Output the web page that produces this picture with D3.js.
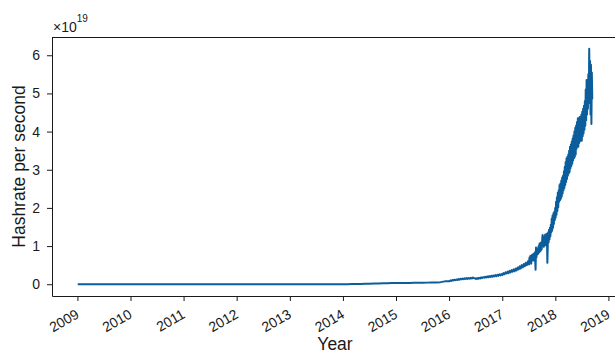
<!DOCTYPE html>
<html>
<head>
<meta charset="utf-8">
<script src="https://cdn.jsdelivr.net/npm/d3@7"></script>
<style>
  html, body { margin: 0; padding: 0; background: #fff; }
  svg { display: block; font-family: "Liberation Sans", Arial, Helvetica, sans-serif; }
</style>
</head>
<body>
<svg id="chart" width="615" height="354"></svg>
<script>
// Bitcoin network hashrate, in EH/s (1 EH/s = 1e18 hashes per second).
// Monthly readings 2009-2015, weekly readings 2016 to mid-2017, then every three days.
const monthlyStart = "2009-01-03";
const monthlyEHs = [
  // 2009
  5e-9, 5e-9, 6e-9, 5e-9, 4e-9, 5e-9, 4e-9, 5e-9, 4e-9, 6e-9, 7e-9, 8e-9,
  // 2010
  8e-9, 1e-8, 1e-8, 1.2e-8, 1.5e-8, 2e-8, 3e-8, 1e-7, 1.5e-7, 1.2e-7, 1.6e-7, 1.5e-7,
  // 2011
  2.5e-7, 5e-7, 1e-6, 1e-6, 2e-6, 8e-6, 1.3e-5, 1.5e-5, 1.3e-5, 1e-5, 8e-6, 8e-6,
  // 2012
  1e-5, 1.1e-5, 1.2e-5, 1.3e-5, 1.2e-5, 1.4e-5, 1.6e-5, 1.9e-5, 2.3e-5, 2.5e-5, 2.5e-5, 2.4e-5,
  // 2013
  2.5e-5, 3e-5, 3.5e-5, 5e-5, 7e-5, 9e-5, 1.6e-4, 2.5e-4, 6e-4, 1.2e-3, 3e-3, 7e-3,
  // 2014
  0.012, 0.02, 0.03, 0.05, 0.07, 0.1, 0.14, 0.18, 0.22, 0.26, 0.28, 0.3,
  // 2015
  0.3, 0.32, 0.33, 0.34, 0.36, 0.38, 0.4, 0.42, 0.45, 0.48, 0.55, 0.75
];

const weeklyStart = "2016-01-04";
const weeklyEHs = [
  // 2016
  0.8, 1.0, 0.88, 1.1, 1.0, 1.2, 1.05, 1.25, 1.1, 1.35, 1.2, 1.45, 1.3,
  1.5, 1.3, 1.55, 1.4, 1.6, 1.4, 1.65, 1.45, 1.7, 1.5, 1.75, 1.55, 1.6,
  1.35, 1.6, 1.4, 1.7, 1.5, 1.8, 1.6, 1.85, 1.7, 1.95, 1.75, 2.05, 1.8,
  2.15, 1.9, 2.2, 1.95, 2.3, 2.05, 2.4, 2.1, 2.5, 2.2, 2.6, 2.3, 2.65,
  // 2017 H1
  2.4, 2.9, 2.6, 3.1, 2.8, 3.3, 2.9, 3.5, 3.1, 3.7, 3.3, 3.9, 3.4,
  4.1, 3.6, 4.4, 3.9, 4.7, 4.1, 5.0, 4.4, 5.3, 4.7, 5.6, 5.0, 6.0
];

const threeDayStart = "2017-07-01";
const threeDayEHs = [
  6.0, 5.2, 7.0, 5.8, 7.4, 6.1, 5.4, 7.6, 6.3, 7.8,
  7.0, 6.2, 8.0, 6.6, 8.3, 6.8, 3.8, 9.6, 7.0, 9.2,
  7.8, 9.4, 8.0, 10.0, 8.3, 10.6, 8.6, 10.9, 8.8, 10.4,
  9.2, 11.4, 12.9, 10.0, 12.2, 9.8, 12.6, 10.4, 13.0, 10.2,
  12.4, 10.6, 13.2, 5.6, 10.0, 13.6, 11.0, 14.3, 11.8, 14.8,
  12.6, 15.6, 13.6, 17.2, 14.0, 18.0, 14.8, 18.6, 15.8, 19.0,
  16.8, 20.0, 17.4, 21.6, 18.2, 22.8, 19.2, 24.0, 20.2, 24.6,
  21.6, 26.0, 22.0, 26.4, 22.4, 27.2, 23.0, 28.0, 23.8, 28.4,
  24.6, 29.6, 25.2, 30.8, 26.0, 32.0, 26.8, 33.0, 27.6, 33.4,
  28.4, 34.0, 29.0, 35.0, 29.4, 36.0, 30.4, 36.6, 31.0, 37.4,
  31.6, 38.2, 32.4, 39.0, 33.0, 40.0, 33.4, 41.0, 34.0, 41.6,
  35.5, 42.5, 36.5, 43.5, 36.0, 42.0, 37.0, 43.8, 37.5, 42.8,
  38.0, 44.5, 37.6, 45.2, 38.8, 46.0, 39.5, 46.8, 40.5, 48.0,
  41.5, 51.0, 43.0, 53.5, 44.5, 52.5, 46.0, 55.0, 47.5, 61.7,
  49.0, 58.5, 44.5, 57.5, 42.0, 55.5, 48.5
];

const yearTicks = [2009, 2010, 2011, 2012, 2013, 2014, 2015, 2016, 2017, 2018, 2019];
const yTicks = [0, 1, 2, 3, 4, 5, 6];   // multiples of 1e19 H/s
const yExponent = 19;

// ---- assemble the series ----
const parse = d3.utcParse("%Y-%m-%d");
const EH = 1e18;
const points = [];
monthlyEHs.forEach((v, i) => points.push({ date: d3.utcMonth.offset(parse(monthlyStart), i), hs: v * EH }));
weeklyEHs.forEach((v, i) => points.push({ date: d3.utcWeek.offset(parse(weeklyStart), i), hs: v * EH }));
threeDayEHs.forEach((v, i) => points.push({ date: d3.utcDay.offset(parse(threeDayStart), 3 * i), hs: v * EH }));

// ---- layout ----
const margin = { left: 52, top: 37, bottom: 296 };
const plotWidth = 566;
const lineColor = "#0b5e9b";
const ink = "#1a1a1a";

const svg = d3.select("#chart");
svg.append("rect").attr("width", 615).attr("height", 354).attr("fill", "#fff");

// 5% margins around the data, both directions
const [t0, t1] = d3.extent(points, d => d.date);
const tPad = (t1 - t0) * 0.05;
const x = d3.scaleUtc()
  .domain([new Date(+t0 - tPad), new Date(+t1 + tPad)])
  .range([margin.left, margin.left + plotWidth]);

const [v0, v1] = d3.extent(points, d => d.hs);
const vPad = (v1 - v0) * 0.05;
const y = d3.scaleLinear()
  .domain([v0 - vPad, v1 + vPad])
  .range([margin.bottom, margin.top]);

// ---- hashrate line ----
const line = d3.line()
  .x(d => x(d.date))
  .y(d => y(d.hs));

svg.append("path")
  .datum(points)
  .attr("fill", "none")
  .attr("stroke", lineColor)
  .attr("stroke-width", 2)
  .attr("stroke-linejoin", "round")
  .attr("stroke-linecap", "butt")
  .attr("d", line);

// ---- axes ----
const xAxis = d3.axisBottom(x)
  .tickValues(yearTicks.map(yr => new Date(Date.UTC(yr, 0, 1))))
  .tickFormat(d3.utcFormat("%Y"))
  .tickSize(5)
  .tickSizeOuter(0);

const gx = svg.append("g")
  .attr("transform", `translate(0,${margin.bottom})`)
  .call(xAxis);
gx.selectAll("text")
  .attr("x", 0).attr("y", 0).attr("dy", null)
  .attr("text-anchor", "end")
  .attr("transform", "translate(2,21) rotate(-30)")
  .attr("font-size", 14)
  .attr("fill", ink);

const yAxis = d3.axisLeft(y)
  .tickValues(yTicks.map(v => v * Math.pow(10, yExponent)))
  .tickFormat(d => d3.format("d")(Math.round(d / Math.pow(10, yExponent))))
  .tickSize(5)
  .tickPadding(7)
  .tickSizeOuter(0);

const gy = svg.append("g")
  .attr("transform", `translate(${margin.left},0)`)
  .call(yAxis);
gy.selectAll("text").attr("font-size", 14).attr("fill", ink);

[gx, gy].forEach(g => {
  g.select(".domain").attr("stroke", ink).attr("stroke-width", 1);
  g.selectAll(".tick line").attr("stroke", ink).attr("stroke-width", 1);
});

// top and right frame lines
svg.append("line")
  .attr("x1", margin.left).attr("x2", margin.left + plotWidth)
  .attr("y1", margin.top + 0.5).attr("y2", margin.top + 0.5)
  .attr("stroke", ink).attr("stroke-width", 1);
svg.append("line")
  .attr("x1", margin.left + plotWidth).attr("x2", margin.left + plotWidth)
  .attr("y1", margin.top).attr("y2", margin.bottom)
  .attr("stroke", ink).attr("stroke-width", 1);

// ---- labels ----
const offset = svg.append("text")
  .attr("x", 53).attr("y", 32)
  .attr("font-size", 14).attr("fill", ink);
offset.append("tspan").text("×10");
offset.append("tspan").attr("dy", -10).attr("font-size", 10).text(String(yExponent));

svg.append("text")
  .attr("x", (margin.left + margin.left + plotWidth) / 2)
  .attr("y", 350)
  .attr("text-anchor", "middle")
  .attr("font-size", 17.5)
  .attr("fill", ink)
  .text("Year");

svg.append("text")
  .attr("transform", `translate(25,${(margin.top + margin.bottom) / 2}) rotate(-90)`)
  .attr("text-anchor", "middle")
  .attr("font-size", 17.5)
  .attr("fill", ink)
  .text("Hashrate per second");
</script>
</body>
</html>
